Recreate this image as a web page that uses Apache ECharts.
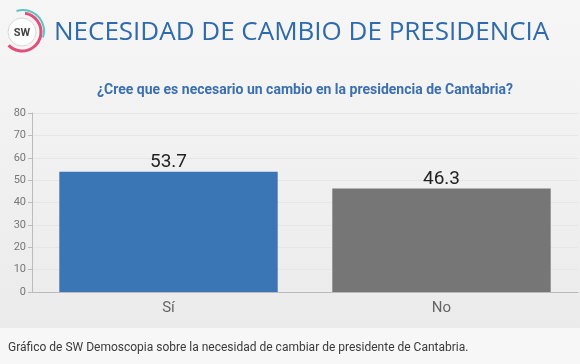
<!DOCTYPE html>
<html><head><meta charset="utf-8">
<script src="https://cdn.jsdelivr.net/npm/echarts@6/dist/echarts.min.js"></script>
<style>html,body{margin:0;padding:0;background:#f8f8f8;}#c{width:580px;height:364px;}</style>
</head><body><div id="c"></div>
<script>
const categories = ['Sí', 'No'];
const values = [53.7, 46.3];
const barColors = ['#3a76b5', '#767676'];
const yTicks = [0, 80, 10];
const titleText = 'NECESIDAD DE CAMBIO DE PRESIDENCIA';
const subtitleText = '¿Cree que es necesario un cambio en la presidencia de Cantabria?';
const captionText = 'Gráfico de SW Demoscopia sobre la necesidad de cambiar de presidente de Cantabria.';

const chart = echarts.init(document.getElementById('c'), null, {renderer: 'canvas'});
chart.setOption({
  animation: false,
  backgroundColor: '#f8f8f8',
  graphic: [
    {type: 'rect', z: -10, shape: {x: 0, y: 0, width: 580, height: 328},
     style: {fill: new echarts.graphic.LinearGradient(0, 0, 0, 1, [{offset: 0, color: '#f6f6f6'}, {offset: 1, color: '#ebebeb'}])}},
    {type: 'rect', z: -10, shape: {x: 0, y: 328, width: 580, height: 36}, style: {fill: '#f7f7f7'}},
    {type: 'arc', shape: {cx: 22, cy: 32, r: 19, startAngle: -Math.PI * 0.45, endAngle: Math.PI * 0.75},
     style: {stroke: '#e0507a', lineWidth: 3, fill: null}},
    {type: 'arc', shape: {cx: 23, cy: 31, r: 21, startAngle: -Math.PI * 0.6, endAngle: Math.PI * 0.1},
     style: {stroke: '#5cc4c4', lineWidth: 2, fill: null}},
    {type: 'circle', shape: {cx: 22, cy: 32, r: 14}, style: {fill: '#ffffff', stroke: '#d8d8d8', lineWidth: 1}},
    {type: 'text', style: {x: 22, y: 33, text: 'SW', fill: '#444', font: 'bold 11px Roboto', align: 'center', verticalAlign: 'middle'}},
    {type: 'text', style: {x: 54, y: 33, text: titleText, fill: '#2e6aac', font: '26px "Open Sans"', verticalAlign: 'middle'}},
    {type: 'text', style: {x: 305, y: 90, text: subtitleText, fill: '#3a6fb0', font: 'bold 14px Roboto', align: 'center', verticalAlign: 'middle'}},
    {type: 'text', style: {x: 8, y: 348, text: captionText, fill: '#3a3a3a', font: '12px Roboto', verticalAlign: 'middle'}}
  ],
  grid: {left: 32, right: 2, top: 113, bottom: 72},
  xAxis: {
    type: 'category', data: categories,
    axisLine: {lineStyle: {color: '#bbbbbb'}},
    axisTick: {alignWithLabel: true, lineStyle: {color: '#bbbbbb'}},
    axisLabel: {color: '#666', fontSize: 15, fontFamily: 'Roboto', margin: 9}
  },
  yAxis: {
    type: 'value', min: yTicks[0], max: yTicks[1], interval: yTicks[2],
    axisLine: {show: true, lineStyle: {color: '#bbbbbb'}},
    axisTick: {show: true, length: 4, lineStyle: {color: '#bbbbbb'}},
    axisLabel: {color: '#777', fontSize: 11, fontFamily: 'Roboto', margin: 6},
    splitLine: {lineStyle: {color: '#e6e6e6'}}
  },
  series: [{
    type: 'bar', barWidth: '80%',
    data: values.map((v, i) => ({value: v, itemStyle: {color: barColors[i]}})),
    label: {show: true, position: 'top', color: '#222', fontSize: 19, fontFamily: 'Roboto', distance: 0}
  }]
});
</script></body></html>
